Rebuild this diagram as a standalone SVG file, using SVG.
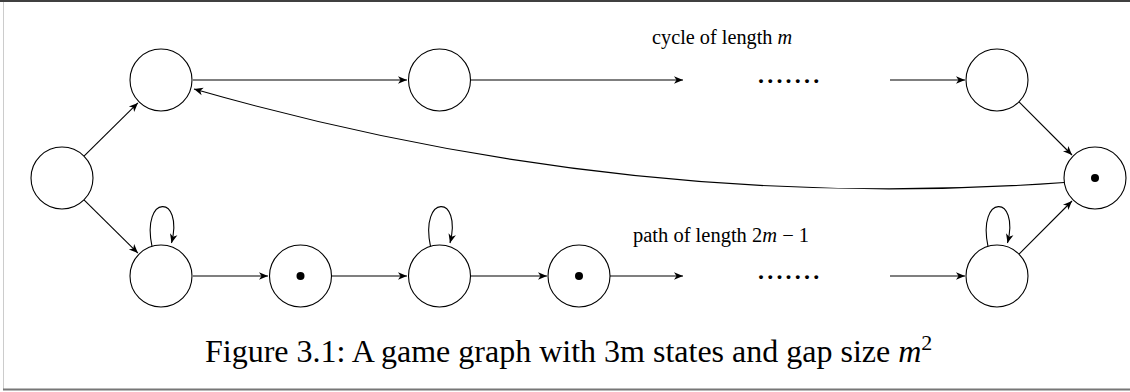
<svg xmlns="http://www.w3.org/2000/svg" width="1130" height="392" viewBox="0 0 1130 392">
<defs>
<style>
.n{fill:#fff;stroke:#000;stroke-width:1.1}
.d{fill:#000}
.e{fill:none;stroke:#000;stroke-width:1.1;marker-end:url(#ah)}
.t{font-family:"Liberation Serif","Times New Roman",serif;fill:#000}
.dots{font-family:"Liberation Serif","Times New Roman",serif;fill:#000;font-size:24px;font-weight:bold;letter-spacing:3.2px}
</style>
<marker id="ah" markerUnits="userSpaceOnUse" markerWidth="11" markerHeight="9" viewBox="-10 -4.5 11 9" refX="0" refY="0" orient="auto">
<path d="M-9,-3.8 L0,0 L-9,3.8 L-6.5,0 Z" fill="#000"/>
</marker>
</defs>
<rect x="0" y="0" width="1130" height="392" fill="#fff"/>
<line x1="0" y1="1" x2="1130" y2="1" stroke="#000" stroke-width="1.6"/>
<line x1="3.5" y1="2" x2="3.5" y2="389" stroke="#ccc" stroke-width="1"/>
<line x1="3" y1="389.5" x2="1130" y2="389.5" stroke="#777" stroke-width="2"/>
<g id="edges">
<path class="e" d="M84,156.2 L137.9,102.9"/>
<path class="e" d="M84,199.8 L137.9,253.1"/>
<path class="e" d="M193,80 L407,80"/>
<path class="e" d="M471,80 L683,80"/>
<path class="e" d="M890,80 L965,80"/>
<path class="e" d="M1019,101.8 L1072,155"/>
<path class="e" d="M1064.2,182.5 Q629,214 194,89"/>
<path class="e" d="M193,276 L268,276"/>
<path class="e" d="M332,276 L407,276"/>
<path class="e" d="M471,276 L547,276"/>
<path class="e" d="M610,276 L683,276"/>
<path class="e" d="M890,276 L965,276"/>
<path class="e" d="M1019,254.2 L1072,201"/>
<path class="e" d="M152,246.3 C141,194 184,194 171.5,243"/>
<path class="e" d="M430.5,246.3 C419.5,194 462.5,194 450,243"/>
<path class="e" d="M988,246.3 C977,194 1020,194 1007.5,243"/>
</g>
<g id="nA"><circle class="n" cx="62" cy="178" r="31"/></g>
<g id="nB1"><circle class="n" cx="161" cy="80" r="31"/></g>
<g id="nB2"><circle class="n" cx="439.5" cy="80" r="31"/></g>
<g id="nB3"><circle class="n" cx="997" cy="80" r="31"/></g>
<g id="nC"><circle class="n" cx="1095" cy="178" r="31"/><circle class="d" cx="1095" cy="178" r="4"/></g>
<g id="nD1"><circle class="n" cx="161" cy="276" r="31"/></g>
<g id="nD2"><circle class="n" cx="300.5" cy="276" r="31"/><circle class="d" cx="300.5" cy="276" r="4"/></g>
<g id="nD3"><circle class="n" cx="439.5" cy="276" r="31"/></g>
<g id="nD4"><circle class="n" cx="579" cy="276" r="31"/><circle class="d" cx="579" cy="276" r="4"/></g>
<g id="nD5"><circle class="n" cx="997" cy="276" r="31"/></g>
<g id="labels">
<text class="t" x="652" y="44" font-size="20.3">cycle of length <tspan font-style="italic">m</tspan></text>
<text class="dots" x="758" y="82.5">.......</text>
<text class="t" x="633" y="242" font-size="20.5">path of length 2<tspan font-style="italic">m</tspan> − 1</text>
<text class="dots" x="758" y="278.5">.......</text>
<text class="t" x="205" y="362" font-size="32">Figure 3.1: A game graph with 3m states and gap size <tspan font-style="italic">m</tspan><tspan font-size="22" dy="-12">2</tspan></text>
</g>
</svg>
